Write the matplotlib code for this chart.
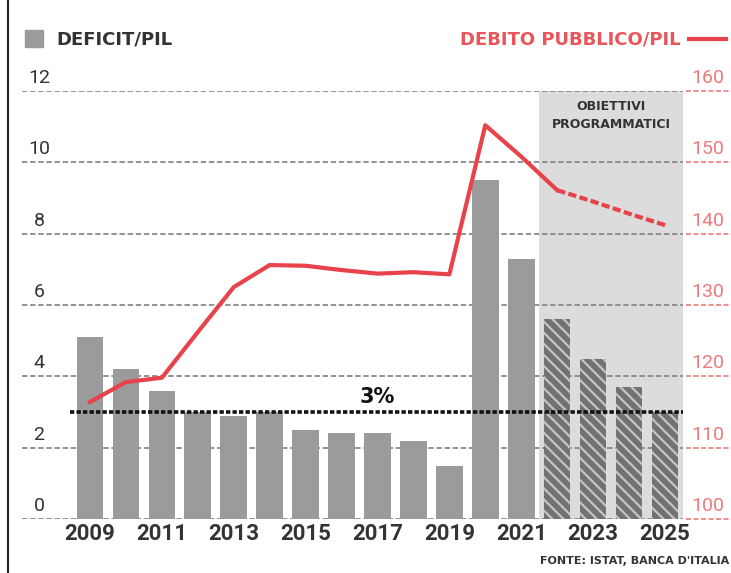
import matplotlib
matplotlib.use("Agg")
import matplotlib.pyplot as plt
from matplotlib.lines import Line2D
from matplotlib.patches import Rectangle

plt.rcParams["font.family"] = ["Roboto", "DejaVu Sans"]
plt.rcParams["hatch.linewidth"] = 1.6

# Deficit/PIL (%) e debito pubblico/PIL (%), 2022-2025 obiettivi programmatici
years = list(range(2009, 2026))
deficit = [5.1, 4.2, 3.6, 3.0, 2.9, 3.0, 2.5, 2.4, 2.4, 2.2, 1.5, 9.5, 7.3, 5.6, 4.5, 3.7, 3.0]
debito = [116.4, 119.2, 119.8, 126.2, 132.5, 135.6, 135.5, 134.9, 134.4, 134.6, 134.3,
          155.2, 150.8, 146.1, 144.5, 142.8, 141.2]
first_target = 2022
left_ticks = [0, 2, 4, 6, 8, 10, 12]
right_ticks = [100, 110, 120, 130, 140, 150, 160]
year_labels = list(range(2009, 2026, 2))

W, H = 731, 573
GRAY = "#9b9b9b"
RED = "#e8424b"
RED_LIGHT = "#ee7a7a"
DARK = "#333333"


def fx(px):
    return px / W


def fy(py):
    return 1 - py / H


fig = plt.figure(figsize=(W / 100, H / 100), dpi=100)
ax = fig.add_axes([fx(22), fy(519), fx(683) - fx(22), fy(91) - fy(519)])
ax.set_xlim(2007.11, 2025.5)
ax.set_ylim(0, 12)

# area obiettivi programmatici
ax.axvspan(first_target - 0.5, 2025.5, color="#dcdcdc", zorder=0, lw=0)

for t in left_ticks:
    ax.axhline(t, color="#8a8a8a", lw=1.3, ls=(0, (3, 1.5)), zorder=1)

hist = [(y, d) for y, d in zip(years, deficit) if y < first_target]
prog = [(y, d) for y, d in zip(years, deficit) if y >= first_target]
ax.bar([p[0] for p in hist], [p[1] for p in hist], width=0.74, color=GRAY, zorder=2)
ax.bar([p[0] for p in prog], [p[1] for p in prog], width=0.74, color="#727272",
       hatch="\\\\\\", edgecolor="#c4c4c4", lw=0, zorder=2)

ax.hlines(3, 2008.45, 2025.5, colors="#111111", lw=2.6, linestyles=(0, (1.2, 0.6)), zorder=4)
ax.text(2017, 3.15, "3%", ha="center", va="bottom", fontsize=15, fontweight="bold",
        color="#111111", family="DejaVu Sans")

ax.text(2023.5, 11.75, "OBIETTIVI\nPROGRAMMATICI", ha="center", va="top", fontsize=9,
        fontweight="bold", color=DARK, linespacing=1.5, family="DejaVu Sans")

for s in ax.spines.values():
    s.set_visible(False)
ax.set_xticks(year_labels)
ax.set_xticklabels([str(y) for y in year_labels], fontsize=16, fontweight="bold", color=DARK)
ax.tick_params(axis="x", length=0, pad=3)
ax.set_yticks([])

ax2 = ax.twinx()
ax2.set_ylim(100, 160)
ax2.set_yticks([])
for s in ax2.spines.values():
    s.set_visible(False)
i = years.index(first_target)
ax2.plot(years[:i + 1], debito[:i + 1], color=RED, lw=3, zorder=5)
ax2.plot(years[i:], debito[i:], color=RED, lw=3, ls=(0, (2, 0.8)), zorder=5)

# etichette asse sinistro e destro
for t in left_ticks:
    py = 519 - t / 12 * 428
    fig.text(fx(39), fy(py - 13), str(t), ha="center", va="center", fontsize=14, color=DARK)
for t in right_ticks:
    py = 519 - (t - 100) / 60 * 428
    fig.text(fx(708), fy(py - 13), str(t), ha="center", va="center", fontsize=14, color=RED_LIGHT)
    fig.add_artist(Line2D([fx(686), fx(731)], [fy(py), fy(py)], color=RED_LIGHT, lw=1.2,
                          ls=(0, (3, 1.5)), transform=fig.transFigure))

# legenda
fig.add_artist(Rectangle((fx(25), fy(47)), fx(18), fy(30) - fy(47), color=GRAY,
                         transform=fig.transFigure))
fig.text(fx(56), fy(39), "DEFICIT/PIL", ha="left", va="center", fontsize=13,
         fontweight="bold", color=DARK, family="DejaVu Sans")
fig.text(fx(681), fy(39), "DEBITO PUBBLICO/PIL", ha="right", va="center", fontsize=13,
         fontweight="bold", color="#e8555a", family="DejaVu Sans")
fig.add_artist(Line2D([fx(689), fx(726)], [fy(39), fy(39)], color=RED, lw=3,
                      transform=fig.transFigure))

fig.text(fx(729), fy(561), "FONTE: ISTAT, BANCA D'ITALIA", ha="right", va="center",
         fontsize=8, fontweight="bold", color=DARK, family="DejaVu Sans")

# bordo sinistro
fig.add_artist(Line2D([fx(8), fx(8)], [0, 1], color="#222222", lw=1.5, transform=fig.transFigure))

fig.savefig("out.png", dpi=100)
